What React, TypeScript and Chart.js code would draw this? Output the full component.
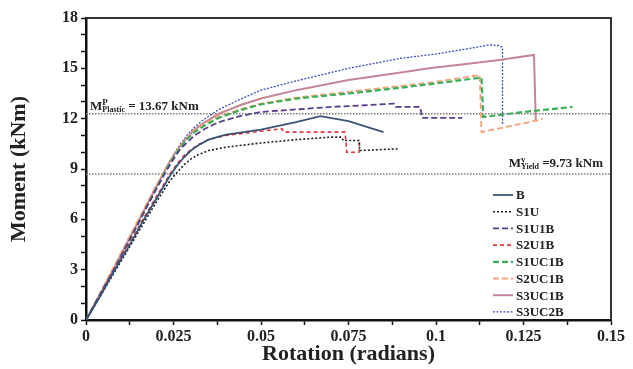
import React, { useEffect, useRef } from 'react';
import { Chart, registerables } from 'chart.js';

Chart.register(...registerables);

const FONT = "'Liberation Serif', 'Times New Roman', serif";

// Rotation (radians) / Moment (kNm) per specimen
const bRot = [0, 0.004, 0.008, 0.012, 0.016, 0.02, 0.024, 0.026, 0.028, 0.03, 0.032, 0.035, 0.04, 0.05, 0.06, 0.067, 0.075, 0.085];
const bMom = [0, 1.4, 2.9, 4.3, 5.8, 7.2, 8.6, 9.2, 9.7, 10.1, 10.4, 10.75, 11.05, 11.35, 11.8, 12.15, 11.85, 11.2];

const s1uRot = [0, 0.004, 0.008, 0.012, 0.016, 0.02, 0.024, 0.026, 0.028, 0.03, 0.032, 0.035, 0.04, 0.05, 0.06, 0.07, 0.073, 0.0735, 0.078, 0.0782, 0.089];
const s1uMom = [0, 1.4, 2.8, 4.2, 5.6, 7.0, 8.3, 8.8, 9.25, 9.6, 9.85, 10.1, 10.3, 10.55, 10.75, 10.9, 10.9, 10.7, 10.7, 10.1, 10.2];

const s1u1bRot = [0, 0.004, 0.008, 0.012, 0.016, 0.02, 0.023, 0.025, 0.027, 0.029, 0.031, 0.034, 0.038, 0.044, 0.05, 0.06, 0.07, 0.08, 0.088, 0.0885, 0.0955, 0.096, 0.1075];
const s1u1bMom = [0, 1.5, 3.0, 4.6, 6.2, 7.8, 8.9, 9.6, 10.2, 10.6, 11.0, 11.4, 11.8, 12.15, 12.4, 12.55, 12.7, 12.8, 12.9, 12.7, 12.7, 12.05, 12.05];

const s2u1bRot = [0, 0.004, 0.008, 0.012, 0.016, 0.02, 0.024, 0.026, 0.028, 0.03, 0.032, 0.035, 0.04, 0.05, 0.056, 0.0565, 0.074, 0.0745, 0.078, 0.0782];
const s2u1bMom = [0, 1.5, 3.0, 4.4, 5.9, 7.3, 8.7, 9.3, 9.8, 10.15, 10.45, 10.75, 11.0, 11.25, 11.4, 11.2, 11.2, 10.0, 10.0, 10.7];

const s1uc1bRot = [0, 0.004, 0.008, 0.012, 0.016, 0.02, 0.023, 0.025, 0.027, 0.029, 0.031, 0.034, 0.038, 0.044, 0.05, 0.06, 0.075, 0.09, 0.1, 0.113, 0.1135, 0.125, 0.139];
const s1uc1bMom = [0, 1.5, 3.0, 4.6, 6.2, 7.8, 9.0, 9.7, 10.3, 10.8, 11.2, 11.6, 12.05, 12.5, 12.85, 13.2, 13.5, 13.85, 14.1, 14.45, 12.1, 12.4, 12.7];

const s2uc1bRot = [0, 0.004, 0.008, 0.012, 0.016, 0.02, 0.023, 0.025, 0.027, 0.029, 0.031, 0.034, 0.038, 0.044, 0.05, 0.06, 0.075, 0.09, 0.1, 0.1125, 0.113, 0.129, 0.1305];
const s2uc1bMom = [0, 1.6, 3.2, 4.8, 6.4, 8.0, 9.1, 9.8, 10.4, 10.9, 11.3, 11.7, 12.15, 12.55, 12.9, 13.25, 13.6, 13.95, 14.2, 14.6, 11.2, 11.9, 12.0];

const s3uc1bRot = [0, 0.004, 0.008, 0.012, 0.016, 0.02, 0.023, 0.025, 0.027, 0.029, 0.031, 0.034, 0.038, 0.044, 0.05, 0.06, 0.075, 0.09, 0.098, 0.108, 0.118, 0.128, 0.1285];
const s3uc1bMom = [0, 1.5, 3.1, 4.7, 6.3, 7.9, 9.1, 9.8, 10.4, 10.9, 11.35, 11.8, 12.3, 12.8, 13.2, 13.7, 14.3, 14.75, 15.0, 15.25, 15.5, 15.8, 11.9];

const s3uc2bRot = [0, 0.004, 0.008, 0.012, 0.016, 0.02, 0.023, 0.025, 0.027, 0.029, 0.031, 0.034, 0.038, 0.044, 0.05, 0.06, 0.075, 0.09, 0.1, 0.11, 0.1155, 0.118, 0.119, 0.119];
const s3uc2bMom = [0, 1.5, 3.1, 4.7, 6.3, 7.9, 9.1, 9.85, 10.5, 11.05, 11.5, 12.0, 12.55, 13.15, 13.7, 14.25, 15.0, 15.6, 15.85, 16.2, 16.4, 16.35, 16.25, 11.6];

// Reference lines (drawn where they appear) and their labels
const plasticLineM = 12.3;
const yieldLineM = 8.7;
const plasticLabel = { sup: 'P', sub: 'Plastic', rest: ' = 13.67 kNm' };
const yieldLabel = { sup: 'y', sub: 'Yield', rest: ' =9.73 kNm' };

const xTickLabels = ['0', '0.025', '0.05', '0.075', '0.1', '0.125', '0.15'];
const yTickLabels = ['0', '3', '6', '9', '12', '15', '18'];

const toPts = (xs: number[], ys: number[]) => xs.map((x, i) => ({ x, y: ys[i] }));

const specimens = [
  { label: 'B', xs: bRot, ys: bMom, color: '#3a5474', dash: [], width: 1.8 },
  { label: 'S1U', xs: s1uRot, ys: s1uMom, color: '#222222', dash: [2, 2], width: 1.6 },
  { label: 'S1U1B', xs: s1u1bRot, ys: s1u1bMom, color: '#5a3d8e', dash: [6, 3], width: 1.8 },
  { label: 'S2U1B', xs: s2u1bRot, ys: s2u1bMom, color: '#e0383c', dash: [4, 3], width: 1.6 },
  { label: 'S1UC1B', xs: s1uc1bRot, ys: s1uc1bMom, color: '#3cae5a', dash: [6, 3], width: 2.2 },
  { label: 'S2UC1B', xs: s2uc1bRot, ys: s2uc1bMom, color: '#f2a37a', dash: [6, 3], width: 1.8 },
  { label: 'S3UC1B', xs: s3uc1bRot, ys: s3uc1bMom, color: '#c58593', dash: [], width: 2.0 },
  { label: 'S3UC2B', xs: s3uc2bRot, ys: s3uc2bMom, color: '#3e4fbf', dash: [2, 1.5], width: 1.3 },
];

function drawMLabel(ctx: CanvasRenderingContext2D, x: number, y: number, lab: { sup: string; sub: string; rest: string }, align: 'left' | 'right') {
  ctx.save();
  ctx.fillStyle = '#222';
  ctx.textBaseline = 'alphabetic';
  ctx.textAlign = 'left';
  const big = `bold 13px ${FONT}`;
  const supF = `bold 9px ${FONT}`;
  const subF = `bold 8px ${FONT}`;
  ctx.font = big;
  const wM = ctx.measureText('M').width;
  const wRest = ctx.measureText(lab.rest).width;
  ctx.font = supF;
  const wSup = ctx.measureText(lab.sup).width;
  ctx.font = subF;
  const wSub = ctx.measureText(lab.sub).width;
  const total = wM + Math.max(wSup, wSub) + wRest;
  let cx = align === 'left' ? x : x - total;
  ctx.font = big;
  ctx.fillText('M', cx, y);
  cx += wM;
  ctx.font = supF;
  ctx.fillText(lab.sup, cx, y - 5);
  ctx.font = subF;
  ctx.fillText(lab.sub, cx, y + 2);
  cx += Math.max(wSup, wSub);
  ctx.font = big;
  ctx.fillText(lab.rest, cx, y);
  ctx.restore();
}

const refPlugin = {
  id: 'refLines',
  beforeDatasetsDraw(chart: any) {
    const { ctx, chartArea, scales } = chart;
    ctx.save();
    ctx.strokeStyle = '#7a7a7a';
    ctx.lineWidth = 1.5;
    ctx.setLineDash([1.5, 1.5]);
    [plasticLineM, yieldLineM].forEach((v) => {
      const py = scales.y.getPixelForValue(v);
      ctx.beginPath();
      ctx.moveTo(chartArea.left, py);
      ctx.lineTo(chartArea.right, py);
      ctx.stroke();
    });
    ctx.restore();
    const pyP = scales.y.getPixelForValue(plasticLineM);
    const pyY = scales.y.getPixelForValue(yieldLineM);
    drawMLabel(ctx, chartArea.left + 4, pyP - 4, plasticLabel, 'left');
    drawMLabel(ctx, chartArea.right - 8, pyY - 7, yieldLabel, 'right');
  },
  afterDraw(chart: any) {
    const { ctx, chartArea } = chart;
    ctx.save();
    // frame top/right
    ctx.strokeStyle = '#333';
    ctx.lineWidth = 2;
    ctx.beginPath();
    ctx.moveTo(chartArea.left, chartArea.top);
    ctx.lineTo(chartArea.right, chartArea.top);
    ctx.lineTo(chartArea.right, chartArea.bottom);
    ctx.stroke();
    // legend inside plot
    const rowH = 16.7;
    const y0 = chartArea.top + 177;
    const lx0 = chartArea.right - 118;
    const lx1 = lx0 + 20;
    chart.data.datasets.forEach((ds: any, i: number) => {
      const yy = y0 + i * rowH;
      ctx.strokeStyle = ds.borderColor;
      ctx.lineWidth = ds.borderWidth;
      ctx.setLineDash(ds.borderDash || []);
      ctx.beginPath();
      ctx.moveTo(lx0, yy);
      ctx.lineTo(lx1, yy);
      ctx.stroke();
      ctx.setLineDash([]);
      ctx.fillStyle = '#222';
      ctx.font = `bold 13px ${FONT}`;
      ctx.textBaseline = 'middle';
      ctx.textAlign = 'left';
      ctx.fillText(ds.label, lx1 + 3, yy + 1);
    });
    ctx.restore();
  },
};

export default function App() {
  const ref = useRef<HTMLCanvasElement>(null);
  useEffect(() => {
    if (!ref.current) return;
    const chart = new Chart(ref.current, {
      type: 'line',
      data: {
        datasets: specimens.map((s) => ({
          label: s.label,
          data: toPts(s.xs, s.ys),
          borderColor: s.color,
          backgroundColor: s.color,
          borderDash: s.dash,
          borderWidth: s.width,
          pointRadius: 0,
          fill: false,
          tension: 0,
        })),
      },
      options: {
        animation: false,
        responsive: true,
        maintainAspectRatio: false,
        layout: { padding: { top: 18, right: 22, left: 0, bottom: 0 } },
        plugins: { legend: { display: false }, tooltip: { enabled: false } },
        scales: {
          x: {
            type: 'linear',
            min: 0,
            max: 0.15,
            afterFit: (s: any) => { s.height = 49; },
            border: { color: '#111', width: 2.5 },
            grid: { drawOnChartArea: false, drawTicks: true, tickLength: 5, color: '#111', tickWidth: 1.5 },
            ticks: {
              stepSize: 0.0125,
              autoSkip: false,
              maxRotation: 0,
              padding: 2,
              color: '#222',
              font: { family: FONT, size: 16, weight: 'bold' },
              callback: (v: any) => {
                const k = Math.round(Number(v) / 0.025 * 1000) / 1000;
                return Number.isInteger(k) ? xTickLabels[k] : '';
              },
            },
            title: {
              display: true,
              text: 'Rotation (radians)',
              color: '#222',
              font: { family: FONT, size: 22, weight: 'bold' },
              padding: { top: 0, bottom: 1 },
            },
          },
          y: {
            type: 'linear',
            min: 0,
            max: 18,
            afterFit: (s: any) => { s.width = 86; },
            border: { color: '#111', width: 2.5 },
            grid: { drawOnChartArea: false, drawTicks: true, tickLength: 5, color: '#111', tickWidth: 1.5 },
            ticks: {
              stepSize: 1,
              autoSkip: false,
              padding: 3,
              color: '#222',
              font: { family: FONT, size: 16, weight: 'bold' },
              callback: (v: any) => {
                const n = Number(v);
                return n % 3 === 0 ? yTickLabels[n / 3] : '';
              },
            },
            title: {
              display: true,
              text: 'Moment (kNm)',
              color: '#222',
              font: { family: FONT, size: 22, weight: 'bold' },
              padding: { top: 6, bottom: 0 },
            },
          },
        },
      } as any,
      plugins: [refPlugin],
    });
    return () => chart.destroy();
  }, []);
  return (
    <div style={{ position: 'fixed', left: 0, top: 0, width: 633, height: 369, background: '#fff' }}>
      <canvas ref={ref} />
    </div>
  );
}
